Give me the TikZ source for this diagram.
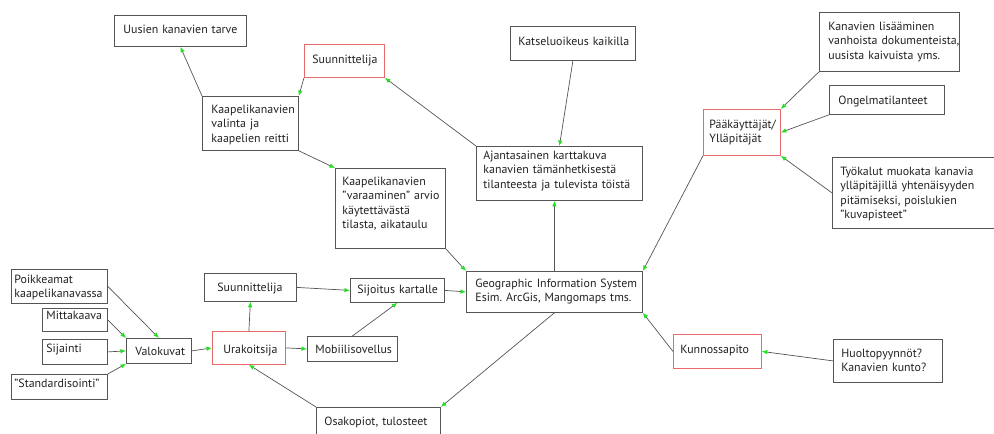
\documentclass[tikz,border=0pt]{standalone}
\usepackage{fontspec}
\setmainfont{PT Sans}
\usetikzlibrary{arrows.meta}
\definecolor{linegray}{HTML}{555555}
\definecolor{boxred}{HTML}{E86A6A}
\definecolor{tipgreen}{HTML}{22E022}
\definecolor{txtgray}{HTML}{222222}
\tikzset{
  box/.style={draw=linegray, line width=0.8pt, fill=white, text=txtgray, anchor=north west,
    align=left, inner ysep=0pt, font=\fontsize{11.9}{14.5}\selectfont,
    execute at begin node={\hyphenpenalty=10000\exhyphenpenalty=10000}},
  redbox/.style={box, draw=boxred},
  dims/.style n args={4}{inner xsep=#1, text width=#2, text height=#3, text depth=#4},
  link/.style={draw=linegray, line width=0.7pt, -{Latex[length=5.5pt,width=4.5pt,color=tipgreen]}},
}
\begin{document}
\begin{tikzpicture}[x=1pt,y=-1pt]
  \useasboundingbox (0,0) rectangle (994,434);
  \clip (0,0) rectangle (994,434);
  % planning branch
  \node[box, dims={9pt}{114pt}{18pt}{13pt}] (uusi) at (114,15) {Uusien~kanavien~tarve};
  \node[redbox, dims={8pt}{64pt}{19pt}{14pt}] (suunA) at (304,44) {Suunnittelija};
  \node[box, dims={9pt}{78pt}{17pt}{37pt}] (valinta) at (202,96) {Kaapelikanavien\\valinta~ja\\kaapelien~reitti};
  \node[box, dims={7pt}{96pt}{17pt}{63pt}] (varaus) at (335,168) {Kaapelikanavien\\"varaaminen"~arvio\\käytettävästä\\tilasta,~aikataulu};
  \node[box, dims={7pt}{152pt}{13pt}{41pt}] (ajantasa) at (476,146) {Ajantasainen~karttakuva\\kanavien~tämänhetkisestä\\tilanteesta~ja~tulevista~töistä};
  \node[box, dims={8pt}{109pt}{19pt}{15pt}] (katselu) at (510,26) {Katseluoikeus~kaikilla};
  % admins
  \node[redbox, dims={6pt}{65pt}{19pt}{27pt}] (paak) at (703,109) {Pääkäyttäjät/\\Ylläpitäjät};
  \node[box, dims={9pt}{122pt}{18pt}{41pt}] (lisaa) at (819,12) {Kanavien~lisääminen\\vanhoista~dokumenteista,\\uusista~kaivuista~yms.};
  \node[box, dims={9pt}{97pt}{19pt}{10pt}] (ongel) at (829,85) {Ongelmatilanteet};
  \node[box, dims={8pt}{184pt}{18pt}{53pt}] (tyok) at (832,157) {Työkalut~muokata~kanavia\\ylläpitäjillä~yhtenäisyyden\\pitämiseksi,~poislukien\\"kuvapisteet"};
  % centre
  \node[box, dims={9pt}{158pt}{16pt}{25pt}] (gis) at (466,271) {Geographic~Information~System\\Esim.~ArcGis,~Mangomaps~tms.};
  \node[redbox, dims={7pt}{74pt}{19pt}{15pt}] (kunnos) at (673,334) {Kunnossapito};
  \node[box, dims={8pt}{93pt}{18pt}{25pt}] (huolto) at (833,339) {Huoltopyynnöt?\\Kanavien~kunto?};
  \node[box, dims={8pt}{108pt}{18pt}{22pt}] (osak) at (316,407) {Osakopiot,~tulosteet};
  \node[box, dims={7pt}{80pt}{15pt}{9pt}] (sijoitus) at (350,278) {Sijoitus~kartalle};
  % contractor side
  \node[box, dims={13pt}{66pt}{18pt}{10pt}] (suunB) at (204,273) {Suunnittelija};
  \node[box, dims={8pt}{74pt}{17pt}{8pt}] (mobi) at (307,336) {Mobiilisovellus};
  \node[redbox, dims={11pt}{51pt}{22pt}{11pt}] (urak) at (212,331) {Urakoitsija};
  \node[box, dims={9pt}{47pt}{17pt}{8pt}] (valok) at (126,338) {Valokuvat};
  \node[box, dims={3pt}{90pt}{14pt}{20pt}] (poikk) at (11,269) {Poikkeamat\\kaapelikanavassa};
  \node[box, dims={4pt}{57pt}{11pt}{12pt}] (mitta) at (42,308) {Mittakaava};
  \node[box, dims={4pt}{57pt}{13pt}{12pt}] (sijainti) at (42,339) {Sijainti};
  \node[box, dims={3pt}{90pt}{13pt}{12pt}] (stand) at (11,374) {"Standardisointi"};

  \draw[link] (valinta.north west) -- (uusi.south);
  \draw[link] (suunA.south west) -- (valinta.north east);
  \draw[link] (ajantasa.north west) -- (suunA.south east);
  \draw[link] (valinta.south east) -- (varaus.north west);
  \draw[link] (varaus.south east) -- (gis.north west);
  \draw[link] (katselu.south) -- (ajantasa.north);
  \draw[link] (gis.north) -- (gis.north |- ajantasa.south);
  \draw[link] (paak.south west) -- (gis.north east);
  \draw[link] (lisaa.south west) -- (paak.north east);
  \draw[link] (ongel.south west) -- (paak.east);
  \draw[link] (tyok.west) -- (paak.south east);
  \draw[link] (kunnos.west) -- (gis.south east);
  \draw[link] (huolto.west) -- (kunnos.east);
  \draw[link] (gis.south) -- (osak.north east);
  \draw[link] (osak.north west) -- (urak.south);
  \draw[link] (sijoitus.east) -- (gis.west);
  \draw[link] (suunB.east) -- (sijoitus.west);
  \draw[link] (mobi.north) -- (sijoitus.south);
  \draw[link] (urak.east) -- (mobi.west);
  \draw[link] (urak.north) -- (suunB.south);
  \draw[link] (valok.east) -- (urak.west);
  \draw[link] (poikk.east) -- (valok.north);
  \draw[link] (mitta.east) -- (valok.north west);
  \draw[link] (sijainti.east) -- (valok.west);
  \draw[link] (stand.north east) -- (valok.south west);
\end{tikzpicture}
\end{document}
